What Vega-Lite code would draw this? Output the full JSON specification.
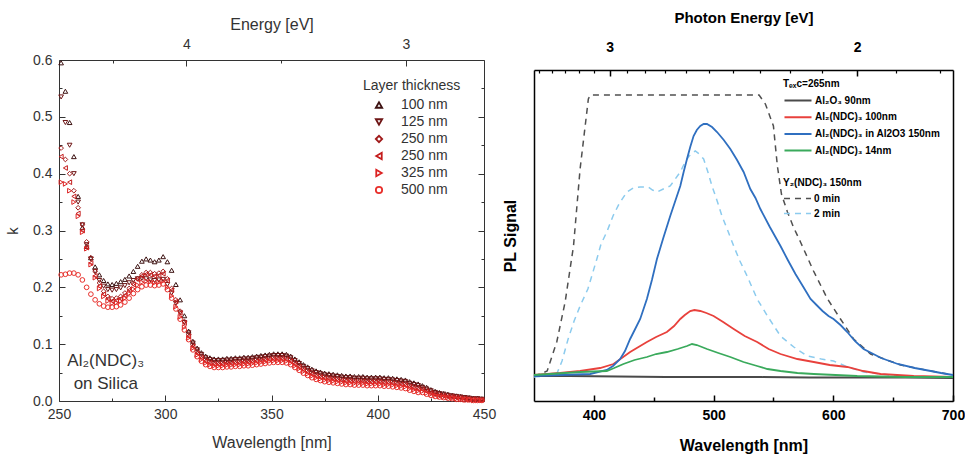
{
 "$schema": "https://vega.github.io/schema/vega-lite/v6.json",
 "padding": {"left": 5, "top": 10, "right": 0, "bottom": 12},
 "background": "white",
 "config": {"view": {"stroke": null}, "font": "Liberation Sans"},
 "bounds": "flush",
 "spacing": 50,
 "hconcat": [
  {
   "width": 425,
   "height": 341,
   "layer": [
    {
     "data": {"values": [
{"w":251,"k":0.595,"t":"100 nm"},{"w":253,"k":0.545,"t":"100 nm"},{"w":255,"k":0.49,"t":"100 nm"},{"w":257,"k":0.43,"t":"100 nm"},{"w":259,"k":0.36,"t":"100 nm"},{"w":261,"k":0.305,"t":"100 nm"},{"w":263,"k":0.272,"t":"100 nm"},{"w":265,"k":0.252,"t":"100 nm"},{"w":267,"k":0.236,"t":"100 nm"},{"w":269,"k":0.222,"t":"100 nm"},{"w":271,"k":0.212,"t":"100 nm"},{"w":273,"k":0.206,"t":"100 nm"},{"w":275,"k":0.205,"t":"100 nm"},{"w":277,"k":0.207,"t":"100 nm"},{"w":279,"k":0.21,"t":"100 nm"},{"w":281,"k":0.214,"t":"100 nm"},{"w":283,"k":0.22,"t":"100 nm"},{"w":285,"k":0.228,"t":"100 nm"},{"w":287,"k":0.237,"t":"100 nm"},{"w":289,"k":0.246,"t":"100 nm"},{"w":291,"k":0.25,"t":"100 nm"},{"w":293,"k":0.248,"t":"100 nm"},{"w":295,"k":0.245,"t":"100 nm"},{"w":297,"k":0.248,"t":"100 nm"},{"w":299,"k":0.254,"t":"100 nm"},{"w":301,"k":0.245,"t":"100 nm"},{"w":303,"k":0.23,"t":"100 nm"},{"w":305,"k":0.205,"t":"100 nm"},{"w":307,"k":0.178,"t":"100 nm"},{"w":309,"k":0.15,"t":"100 nm"},
{"w":311,"k":0.123,"t":"100 nm"},{"w":313,"k":0.105,"t":"100 nm"},{"w":315,"k":0.093,"t":"100 nm"},{"w":317,"k":0.085,"t":"100 nm"},{"w":319,"k":0.079,"t":"100 nm"},{"w":321,"k":0.076,"t":"100 nm"},{"w":323,"k":0.074,"t":"100 nm"},{"w":325,"k":0.074,"t":"100 nm"},{"w":327,"k":0.074,"t":"100 nm"},{"w":329,"k":0.075,"t":"100 nm"},{"w":331,"k":0.075,"t":"100 nm"},{"w":333,"k":0.076,"t":"100 nm"},{"w":335,"k":0.076,"t":"100 nm"},{"w":337,"k":0.077,"t":"100 nm"},{"w":339,"k":0.077,"t":"100 nm"},{"w":341,"k":0.078,"t":"100 nm"},{"w":343,"k":0.079,"t":"100 nm"},{"w":345,"k":0.08,"t":"100 nm"},{"w":347,"k":0.081,"t":"100 nm"},{"w":349,"k":0.082,"t":"100 nm"},{"w":351,"k":0.083,"t":"100 nm"},{"w":353,"k":0.083,"t":"100 nm"},{"w":355,"k":0.083,"t":"100 nm"},{"w":357,"k":0.082,"t":"100 nm"},{"w":359,"k":0.079,"t":"100 nm"},{"w":361,"k":0.074,"t":"100 nm"},{"w":363,"k":0.069,"t":"100 nm"},{"w":365,"k":0.064,"t":"100 nm"},{"w":367,"k":0.06,"t":"100 nm"},{"w":369,"k":0.056,"t":"100 nm"},{"w":371,"k":0.053,"t":"100 nm"},{"w":373,"k":0.051,"t":"100 nm"},{"w":375,"k":0.049,"t":"100 nm"},{"w":377,"k":0.048,"t":"100 nm"},{"w":379,"k":0.047,"t":"100 nm"},{"w":381,"k":0.046,"t":"100 nm"},{"w":383,"k":0.045,"t":"100 nm"},{"w":385,"k":0.044,"t":"100 nm"},{"w":387,"k":0.044,"t":"100 nm"},{"w":389,"k":0.043,"t":"100 nm"},{"w":391,"k":0.043,"t":"100 nm"},{"w":393,"k":0.043,"t":"100 nm"},{"w":395,"k":0.042,"t":"100 nm"},{"w":397,"k":0.042,"t":"100 nm"},{"w":399,"k":0.042,"t":"100 nm"},{"w":401,"k":0.042,"t":"100 nm"},{"w":403,"k":0.041,"t":"100 nm"},{"w":405,"k":0.041,"t":"100 nm"},{"w":407,"k":0.04,"t":"100 nm"},{"w":409,"k":0.039,"t":"100 nm"},{"w":411,"k":0.038,"t":"100 nm"},{"w":413,"k":0.037,"t":"100 nm"},{"w":415,"k":0.034,"t":"100 nm"},{"w":417,"k":0.032,"t":"100 nm"},{"w":419,"k":0.03,"t":"100 nm"},{"w":421,"k":0.027,"t":"100 nm"},{"w":423,"k":0.024,"t":"100 nm"},{"w":425,"k":0.02,"t":"100 nm"},{"w":427,"k":0.017,"t":"100 nm"},{"w":429,"k":0.015,"t":"100 nm"},{"w":431,"k":0.013,"t":"100 nm"},{"w":433,"k":0.012,"t":"100 nm"},{"w":435,"k":0.01,"t":"100 nm"},{"w":437,"k":0.009,"t":"100 nm"},{"w":439,"k":0.008,"t":"100 nm"},{"w":441,"k":0.007,"t":"100 nm"},{"w":443,"k":0.006,"t":"100 nm"},{"w":445,"k":0.005,"t":"100 nm"},{"w":447,"k":0.005,"t":"100 nm"},{"w":449,"k":0.004,"t":"100 nm"},
{"w":251,"k":0.535,"t":"125 nm"},{"w":253,"k":0.49,"t":"125 nm"},{"w":255,"k":0.45,"t":"125 nm"},{"w":257,"k":0.4,"t":"125 nm"},{"w":259,"k":0.35,"t":"125 nm"},{"w":261,"k":0.31,"t":"125 nm"},{"w":263,"k":0.275,"t":"125 nm"},{"w":265,"k":0.25,"t":"125 nm"},{"w":267,"k":0.228,"t":"125 nm"},{"w":269,"k":0.212,"t":"125 nm"},{"w":271,"k":0.202,"t":"125 nm"},{"w":273,"k":0.196,"t":"125 nm"},{"w":275,"k":0.195,"t":"125 nm"},{"w":277,"k":0.196,"t":"125 nm"},{"w":279,"k":0.199,"t":"125 nm"},{"w":281,"k":0.203,"t":"125 nm"},{"w":283,"k":0.208,"t":"125 nm"},{"w":285,"k":0.212,"t":"125 nm"},{"w":287,"k":0.215,"t":"125 nm"},{"w":289,"k":0.216,"t":"125 nm"},{"w":291,"k":0.215,"t":"125 nm"},{"w":293,"k":0.213,"t":"125 nm"},{"w":295,"k":0.212,"t":"125 nm"},{"w":297,"k":0.213,"t":"125 nm"},{"w":299,"k":0.214,"t":"125 nm"},{"w":301,"k":0.205,"t":"125 nm"},{"w":303,"k":0.19,"t":"125 nm"},{"w":305,"k":0.172,"t":"125 nm"},{"w":307,"k":0.155,"t":"125 nm"},{"w":309,"k":0.138,"t":"125 nm"},
{"w":311,"k":0.12,"t":"125 nm"},{"w":313,"k":0.102,"t":"125 nm"},{"w":315,"k":0.09,"t":"125 nm"},{"w":317,"k":0.082,"t":"125 nm"},{"w":319,"k":0.076,"t":"125 nm"},{"w":321,"k":0.073,"t":"125 nm"},{"w":323,"k":0.071,"t":"125 nm"},{"w":325,"k":0.071,"t":"125 nm"},{"w":327,"k":0.071,"t":"125 nm"},{"w":329,"k":0.072,"t":"125 nm"},{"w":331,"k":0.072,"t":"125 nm"},{"w":333,"k":0.073,"t":"125 nm"},{"w":335,"k":0.073,"t":"125 nm"},{"w":337,"k":0.074,"t":"125 nm"},{"w":339,"k":0.074,"t":"125 nm"},{"w":341,"k":0.075,"t":"125 nm"},{"w":343,"k":0.076,"t":"125 nm"},{"w":345,"k":0.077,"t":"125 nm"},{"w":347,"k":0.078,"t":"125 nm"},{"w":349,"k":0.079,"t":"125 nm"},{"w":351,"k":0.08,"t":"125 nm"},{"w":353,"k":0.08,"t":"125 nm"},{"w":355,"k":0.08,"t":"125 nm"},{"w":357,"k":0.079,"t":"125 nm"},{"w":359,"k":0.076,"t":"125 nm"},{"w":361,"k":0.071,"t":"125 nm"},{"w":363,"k":0.066,"t":"125 nm"},{"w":365,"k":0.061,"t":"125 nm"},{"w":367,"k":0.057,"t":"125 nm"},{"w":369,"k":0.053,"t":"125 nm"},{"w":371,"k":0.05,"t":"125 nm"},{"w":373,"k":0.048,"t":"125 nm"},{"w":375,"k":0.046,"t":"125 nm"},{"w":377,"k":0.045,"t":"125 nm"},{"w":379,"k":0.044,"t":"125 nm"},{"w":381,"k":0.043,"t":"125 nm"},{"w":383,"k":0.042,"t":"125 nm"},{"w":385,"k":0.041,"t":"125 nm"},{"w":387,"k":0.041,"t":"125 nm"},{"w":389,"k":0.04,"t":"125 nm"},{"w":391,"k":0.04,"t":"125 nm"},{"w":393,"k":0.04,"t":"125 nm"},{"w":395,"k":0.039,"t":"125 nm"},{"w":397,"k":0.039,"t":"125 nm"},{"w":399,"k":0.039,"t":"125 nm"},{"w":401,"k":0.039,"t":"125 nm"},{"w":403,"k":0.038,"t":"125 nm"},{"w":405,"k":0.038,"t":"125 nm"},{"w":407,"k":0.037,"t":"125 nm"},{"w":409,"k":0.036,"t":"125 nm"},{"w":411,"k":0.035,"t":"125 nm"},{"w":413,"k":0.034,"t":"125 nm"},{"w":415,"k":0.031,"t":"125 nm"},{"w":417,"k":0.029,"t":"125 nm"},{"w":419,"k":0.027,"t":"125 nm"},{"w":421,"k":0.024,"t":"125 nm"},{"w":423,"k":0.021,"t":"125 nm"},{"w":425,"k":0.018,"t":"125 nm"},{"w":427,"k":0.015,"t":"125 nm"},{"w":429,"k":0.013,"t":"125 nm"},{"w":431,"k":0.012,"t":"125 nm"},{"w":433,"k":0.01,"t":"125 nm"},{"w":435,"k":0.009,"t":"125 nm"},{"w":437,"k":0.008,"t":"125 nm"},{"w":439,"k":0.007,"t":"125 nm"},{"w":441,"k":0.006,"t":"125 nm"},{"w":443,"k":0.005,"t":"125 nm"},{"w":445,"k":0.004,"t":"125 nm"},{"w":447,"k":0.004,"t":"125 nm"},{"w":449,"k":0.003,"t":"125 nm"},
{"w":251,"k":0.445,"t":"250 nm"},{"w":253,"k":0.425,"t":"250 nm"},{"w":255,"k":0.4,"t":"250 nm"},{"w":257,"k":0.37,"t":"250 nm"},{"w":259,"k":0.34,"t":"250 nm"},{"w":261,"k":0.31,"t":"250 nm"},{"w":263,"k":0.28,"t":"250 nm"},{"w":265,"k":0.252,"t":"250 nm"},{"w":267,"k":0.228,"t":"250 nm"},{"w":269,"k":0.208,"t":"250 nm"},{"w":271,"k":0.193,"t":"250 nm"},{"w":273,"k":0.184,"t":"250 nm"},{"w":275,"k":0.18,"t":"250 nm"},{"w":277,"k":0.181,"t":"250 nm"},{"w":279,"k":0.184,"t":"250 nm"},{"w":281,"k":0.19,"t":"250 nm"},{"w":283,"k":0.198,"t":"250 nm"},{"w":285,"k":0.207,"t":"250 nm"},{"w":287,"k":0.215,"t":"250 nm"},{"w":289,"k":0.222,"t":"250 nm"},{"w":291,"k":0.226,"t":"250 nm"},{"w":293,"k":0.226,"t":"250 nm"},{"w":295,"k":0.224,"t":"250 nm"},{"w":297,"k":0.225,"t":"250 nm"},{"w":299,"k":0.228,"t":"250 nm"},{"w":301,"k":0.215,"t":"250 nm"},{"w":303,"k":0.198,"t":"250 nm"},{"w":305,"k":0.178,"t":"250 nm"},{"w":307,"k":0.158,"t":"250 nm"},{"w":309,"k":0.14,"t":"250 nm"},
{"w":311,"k":0.117,"t":"250 nm"},{"w":313,"k":0.099,"t":"250 nm"},{"w":315,"k":0.087,"t":"250 nm"},{"w":317,"k":0.079,"t":"250 nm"},{"w":319,"k":0.073,"t":"250 nm"},{"w":321,"k":0.07,"t":"250 nm"},{"w":323,"k":0.068,"t":"250 nm"},{"w":325,"k":0.068,"t":"250 nm"},{"w":327,"k":0.068,"t":"250 nm"},{"w":329,"k":0.069,"t":"250 nm"},{"w":331,"k":0.069,"t":"250 nm"},{"w":333,"k":0.07,"t":"250 nm"},{"w":335,"k":0.07,"t":"250 nm"},{"w":337,"k":0.071,"t":"250 nm"},{"w":339,"k":0.071,"t":"250 nm"},{"w":341,"k":0.072,"t":"250 nm"},{"w":343,"k":0.073,"t":"250 nm"},{"w":345,"k":0.074,"t":"250 nm"},{"w":347,"k":0.075,"t":"250 nm"},{"w":349,"k":0.076,"t":"250 nm"},{"w":351,"k":0.077,"t":"250 nm"},{"w":353,"k":0.077,"t":"250 nm"},{"w":355,"k":0.077,"t":"250 nm"},{"w":357,"k":0.076,"t":"250 nm"},{"w":359,"k":0.073,"t":"250 nm"},{"w":361,"k":0.068,"t":"250 nm"},{"w":363,"k":0.063,"t":"250 nm"},{"w":365,"k":0.058,"t":"250 nm"},{"w":367,"k":0.054,"t":"250 nm"},{"w":369,"k":0.05,"t":"250 nm"},{"w":371,"k":0.047,"t":"250 nm"},{"w":373,"k":0.045,"t":"250 nm"},{"w":375,"k":0.043,"t":"250 nm"},{"w":377,"k":0.042,"t":"250 nm"},{"w":379,"k":0.041,"t":"250 nm"},{"w":381,"k":0.04,"t":"250 nm"},{"w":383,"k":0.039,"t":"250 nm"},{"w":385,"k":0.038,"t":"250 nm"},{"w":387,"k":0.038,"t":"250 nm"},{"w":389,"k":0.037,"t":"250 nm"},{"w":391,"k":0.037,"t":"250 nm"},{"w":393,"k":0.037,"t":"250 nm"},{"w":395,"k":0.036,"t":"250 nm"},{"w":397,"k":0.036,"t":"250 nm"},{"w":399,"k":0.036,"t":"250 nm"},{"w":401,"k":0.036,"t":"250 nm"},{"w":403,"k":0.035,"t":"250 nm"},{"w":405,"k":0.035,"t":"250 nm"},{"w":407,"k":0.034,"t":"250 nm"},{"w":409,"k":0.033,"t":"250 nm"},{"w":411,"k":0.032,"t":"250 nm"},{"w":413,"k":0.031,"t":"250 nm"},{"w":415,"k":0.028,"t":"250 nm"},{"w":417,"k":0.026,"t":"250 nm"},{"w":419,"k":0.024,"t":"250 nm"},{"w":421,"k":0.022,"t":"250 nm"},{"w":423,"k":0.019,"t":"250 nm"},{"w":425,"k":0.016,"t":"250 nm"},{"w":427,"k":0.013,"t":"250 nm"},{"w":429,"k":0.011,"t":"250 nm"},{"w":431,"k":0.01,"t":"250 nm"},{"w":433,"k":0.009,"t":"250 nm"},{"w":435,"k":0.008,"t":"250 nm"},{"w":437,"k":0.007,"t":"250 nm"},{"w":439,"k":0.006,"t":"250 nm"},{"w":441,"k":0.005,"t":"250 nm"},{"w":443,"k":0.004,"t":"250 nm"},{"w":445,"k":0.003,"t":"250 nm"},{"w":447,"k":0.003,"t":"250 nm"},{"w":449,"k":0.002,"t":"250 nm"},
{"w":251,"k":0.43,"t":"250 nm "},{"w":253,"k":0.41,"t":"250 nm "},{"w":255,"k":0.385,"t":"250 nm "},{"w":257,"k":0.36,"t":"250 nm "},{"w":259,"k":0.33,"t":"250 nm "},{"w":261,"k":0.3,"t":"250 nm "},{"w":263,"k":0.27,"t":"250 nm "},{"w":265,"k":0.243,"t":"250 nm "},{"w":267,"k":0.22,"t":"250 nm "},{"w":269,"k":0.202,"t":"250 nm "},{"w":271,"k":0.188,"t":"250 nm "},{"w":273,"k":0.18,"t":"250 nm "},{"w":275,"k":0.176,"t":"250 nm "},{"w":277,"k":0.177,"t":"250 nm "},{"w":279,"k":0.18,"t":"250 nm "},{"w":281,"k":0.186,"t":"250 nm "},{"w":283,"k":0.195,"t":"250 nm "},{"w":285,"k":0.205,"t":"250 nm "},{"w":287,"k":0.214,"t":"250 nm "},{"w":289,"k":0.22,"t":"250 nm "},{"w":291,"k":0.223,"t":"250 nm "},{"w":293,"k":0.222,"t":"250 nm "},{"w":295,"k":0.22,"t":"250 nm "},{"w":297,"k":0.221,"t":"250 nm "},{"w":299,"k":0.224,"t":"250 nm "},{"w":301,"k":0.212,"t":"250 nm "},{"w":303,"k":0.195,"t":"250 nm "},{"w":305,"k":0.175,"t":"250 nm "},{"w":307,"k":0.155,"t":"250 nm "},{"w":309,"k":0.137,"t":"250 nm "},
{"w":311,"k":0.114,"t":"250 nm "},{"w":313,"k":0.096,"t":"250 nm "},{"w":315,"k":0.084,"t":"250 nm "},{"w":317,"k":0.076,"t":"250 nm "},{"w":319,"k":0.07,"t":"250 nm "},{"w":321,"k":0.067,"t":"250 nm "},{"w":323,"k":0.065,"t":"250 nm "},{"w":325,"k":0.065,"t":"250 nm "},{"w":327,"k":0.065,"t":"250 nm "},{"w":329,"k":0.066,"t":"250 nm "},{"w":331,"k":0.066,"t":"250 nm "},{"w":333,"k":0.067,"t":"250 nm "},{"w":335,"k":0.067,"t":"250 nm "},{"w":337,"k":0.068,"t":"250 nm "},{"w":339,"k":0.068,"t":"250 nm "},{"w":341,"k":0.069,"t":"250 nm "},{"w":343,"k":0.07,"t":"250 nm "},{"w":345,"k":0.071,"t":"250 nm "},{"w":347,"k":0.072,"t":"250 nm "},{"w":349,"k":0.073,"t":"250 nm "},{"w":351,"k":0.074,"t":"250 nm "},{"w":353,"k":0.074,"t":"250 nm "},{"w":355,"k":0.074,"t":"250 nm "},{"w":357,"k":0.073,"t":"250 nm "},{"w":359,"k":0.07,"t":"250 nm "},{"w":361,"k":0.065,"t":"250 nm "},{"w":363,"k":0.06,"t":"250 nm "},{"w":365,"k":0.055,"t":"250 nm "},{"w":367,"k":0.051,"t":"250 nm "},{"w":369,"k":0.047,"t":"250 nm "},{"w":371,"k":0.044,"t":"250 nm "},{"w":373,"k":0.042,"t":"250 nm "},{"w":375,"k":0.04,"t":"250 nm "},{"w":377,"k":0.039,"t":"250 nm "},{"w":379,"k":0.038,"t":"250 nm "},{"w":381,"k":0.037,"t":"250 nm "},{"w":383,"k":0.036,"t":"250 nm "},{"w":385,"k":0.035,"t":"250 nm "},{"w":387,"k":0.035,"t":"250 nm "},{"w":389,"k":0.034,"t":"250 nm "},{"w":391,"k":0.034,"t":"250 nm "},{"w":393,"k":0.034,"t":"250 nm "},{"w":395,"k":0.033,"t":"250 nm "},{"w":397,"k":0.033,"t":"250 nm "},{"w":399,"k":0.033,"t":"250 nm "},{"w":401,"k":0.033,"t":"250 nm "},{"w":403,"k":0.032,"t":"250 nm "},{"w":405,"k":0.032,"t":"250 nm "},{"w":407,"k":0.031,"t":"250 nm "},{"w":409,"k":0.03,"t":"250 nm "},{"w":411,"k":0.029,"t":"250 nm "},{"w":413,"k":0.028,"t":"250 nm "},{"w":415,"k":0.025,"t":"250 nm "},{"w":417,"k":0.023,"t":"250 nm "},{"w":419,"k":0.021,"t":"250 nm "},{"w":421,"k":0.02,"t":"250 nm "},{"w":423,"k":0.017,"t":"250 nm "},{"w":425,"k":0.014,"t":"250 nm "},{"w":427,"k":0.012,"t":"250 nm "},{"w":429,"k":0.01,"t":"250 nm "},{"w":431,"k":0.009,"t":"250 nm "},{"w":433,"k":0.008,"t":"250 nm "},{"w":435,"k":0.007,"t":"250 nm "},{"w":437,"k":0.006,"t":"250 nm "},{"w":439,"k":0.005,"t":"250 nm "},{"w":441,"k":0.004,"t":"250 nm "},{"w":443,"k":0.003,"t":"250 nm "},{"w":445,"k":0.003,"t":"250 nm "},{"w":447,"k":0.002,"t":"250 nm "},{"w":449,"k":0.002,"t":"250 nm "},
{"w":251,"k":0.385,"t":"325 nm"},{"w":253,"k":0.382,"t":"325 nm"},{"w":255,"k":0.37,"t":"325 nm"},{"w":257,"k":0.35,"t":"325 nm"},{"w":259,"k":0.325,"t":"325 nm"},{"w":261,"k":0.297,"t":"325 nm"},{"w":263,"k":0.268,"t":"325 nm"},{"w":265,"k":0.24,"t":"325 nm"},{"w":267,"k":0.217,"t":"325 nm"},{"w":269,"k":0.198,"t":"325 nm"},{"w":271,"k":0.184,"t":"325 nm"},{"w":273,"k":0.176,"t":"325 nm"},{"w":275,"k":0.172,"t":"325 nm"},{"w":277,"k":0.173,"t":"325 nm"},{"w":279,"k":0.176,"t":"325 nm"},{"w":281,"k":0.181,"t":"325 nm"},{"w":283,"k":0.189,"t":"325 nm"},{"w":285,"k":0.197,"t":"325 nm"},{"w":287,"k":0.204,"t":"325 nm"},{"w":289,"k":0.209,"t":"325 nm"},{"w":291,"k":0.211,"t":"325 nm"},{"w":293,"k":0.21,"t":"325 nm"},{"w":295,"k":0.208,"t":"325 nm"},{"w":297,"k":0.209,"t":"325 nm"},{"w":299,"k":0.211,"t":"325 nm"},{"w":301,"k":0.2,"t":"325 nm"},{"w":303,"k":0.185,"t":"325 nm"},{"w":305,"k":0.166,"t":"325 nm"},{"w":307,"k":0.148,"t":"325 nm"},{"w":309,"k":0.13,"t":"325 nm"},
{"w":311,"k":0.111,"t":"325 nm"},{"w":313,"k":0.093,"t":"325 nm"},{"w":315,"k":0.081,"t":"325 nm"},{"w":317,"k":0.073,"t":"325 nm"},{"w":319,"k":0.067,"t":"325 nm"},{"w":321,"k":0.064,"t":"325 nm"},{"w":323,"k":0.062,"t":"325 nm"},{"w":325,"k":0.062,"t":"325 nm"},{"w":327,"k":0.062,"t":"325 nm"},{"w":329,"k":0.063,"t":"325 nm"},{"w":331,"k":0.063,"t":"325 nm"},{"w":333,"k":0.064,"t":"325 nm"},{"w":335,"k":0.064,"t":"325 nm"},{"w":337,"k":0.065,"t":"325 nm"},{"w":339,"k":0.065,"t":"325 nm"},{"w":341,"k":0.066,"t":"325 nm"},{"w":343,"k":0.067,"t":"325 nm"},{"w":345,"k":0.068,"t":"325 nm"},{"w":347,"k":0.069,"t":"325 nm"},{"w":349,"k":0.07,"t":"325 nm"},{"w":351,"k":0.071,"t":"325 nm"},{"w":353,"k":0.071,"t":"325 nm"},{"w":355,"k":0.071,"t":"325 nm"},{"w":357,"k":0.07,"t":"325 nm"},{"w":359,"k":0.067,"t":"325 nm"},{"w":361,"k":0.062,"t":"325 nm"},{"w":363,"k":0.057,"t":"325 nm"},{"w":365,"k":0.052,"t":"325 nm"},{"w":367,"k":0.048,"t":"325 nm"},{"w":369,"k":0.044,"t":"325 nm"},{"w":371,"k":0.041,"t":"325 nm"},{"w":373,"k":0.039,"t":"325 nm"},{"w":375,"k":0.037,"t":"325 nm"},{"w":377,"k":0.036,"t":"325 nm"},{"w":379,"k":0.035,"t":"325 nm"},{"w":381,"k":0.034,"t":"325 nm"},{"w":383,"k":0.033,"t":"325 nm"},{"w":385,"k":0.032,"t":"325 nm"},{"w":387,"k":0.032,"t":"325 nm"},{"w":389,"k":0.031,"t":"325 nm"},{"w":391,"k":0.031,"t":"325 nm"},{"w":393,"k":0.031,"t":"325 nm"},{"w":395,"k":0.03,"t":"325 nm"},{"w":397,"k":0.03,"t":"325 nm"},{"w":399,"k":0.03,"t":"325 nm"},{"w":401,"k":0.03,"t":"325 nm"},{"w":403,"k":0.029,"t":"325 nm"},{"w":405,"k":0.029,"t":"325 nm"},{"w":407,"k":0.028,"t":"325 nm"},{"w":409,"k":0.027,"t":"325 nm"},{"w":411,"k":0.026,"t":"325 nm"},{"w":413,"k":0.025,"t":"325 nm"},{"w":415,"k":0.022,"t":"325 nm"},{"w":417,"k":0.02,"t":"325 nm"},{"w":419,"k":0.018,"t":"325 nm"},{"w":421,"k":0.017,"t":"325 nm"},{"w":423,"k":0.014,"t":"325 nm"},{"w":425,"k":0.012,"t":"325 nm"},{"w":427,"k":0.01,"t":"325 nm"},{"w":429,"k":0.008,"t":"325 nm"},{"w":431,"k":0.007,"t":"325 nm"},{"w":433,"k":0.006,"t":"325 nm"},{"w":435,"k":0.005,"t":"325 nm"},{"w":437,"k":0.004,"t":"325 nm"},{"w":439,"k":0.003,"t":"325 nm"},{"w":441,"k":0.002,"t":"325 nm"},{"w":443,"k":0.002,"t":"325 nm"},{"w":445,"k":0.001,"t":"325 nm"},{"w":447,"k":0.001,"t":"325 nm"},{"w":449,"k":0.001,"t":"325 nm"},
{"w":251,"k":0.222,"t":"500 nm"},{"w":253,"k":0.223,"t":"500 nm"},{"w":255,"k":0.225,"t":"500 nm"},{"w":257,"k":0.225,"t":"500 nm"},{"w":259,"k":0.222,"t":"500 nm"},{"w":261,"k":0.213,"t":"500 nm"},{"w":263,"k":0.2,"t":"500 nm"},{"w":265,"k":0.188,"t":"500 nm"},{"w":267,"k":0.178,"t":"500 nm"},{"w":269,"k":0.171,"t":"500 nm"},{"w":271,"k":0.167,"t":"500 nm"},{"w":273,"k":0.165,"t":"500 nm"},{"w":275,"k":0.165,"t":"500 nm"},{"w":277,"k":0.166,"t":"500 nm"},{"w":279,"k":0.169,"t":"500 nm"},{"w":281,"k":0.174,"t":"500 nm"},{"w":283,"k":0.181,"t":"500 nm"},{"w":285,"k":0.189,"t":"500 nm"},{"w":287,"k":0.196,"t":"500 nm"},{"w":289,"k":0.201,"t":"500 nm"},{"w":291,"k":0.204,"t":"500 nm"},{"w":293,"k":0.204,"t":"500 nm"},{"w":295,"k":0.203,"t":"500 nm"},{"w":297,"k":0.204,"t":"500 nm"},{"w":299,"k":0.206,"t":"500 nm"},{"w":301,"k":0.196,"t":"500 nm"},{"w":303,"k":0.181,"t":"500 nm"},{"w":305,"k":0.162,"t":"500 nm"},{"w":307,"k":0.144,"t":"500 nm"},{"w":309,"k":0.125,"t":"500 nm"},
{"w":311,"k":0.108,"t":"500 nm"},{"w":313,"k":0.09,"t":"500 nm"},{"w":315,"k":0.078,"t":"500 nm"},{"w":317,"k":0.07,"t":"500 nm"},{"w":319,"k":0.064,"t":"500 nm"},{"w":321,"k":0.061,"t":"500 nm"},{"w":323,"k":0.059,"t":"500 nm"},{"w":325,"k":0.059,"t":"500 nm"},{"w":327,"k":0.059,"t":"500 nm"},{"w":329,"k":0.06,"t":"500 nm"},{"w":331,"k":0.06,"t":"500 nm"},{"w":333,"k":0.061,"t":"500 nm"},{"w":335,"k":0.061,"t":"500 nm"},{"w":337,"k":0.062,"t":"500 nm"},{"w":339,"k":0.062,"t":"500 nm"},{"w":341,"k":0.063,"t":"500 nm"},{"w":343,"k":0.064,"t":"500 nm"},{"w":345,"k":0.065,"t":"500 nm"},{"w":347,"k":0.066,"t":"500 nm"},{"w":349,"k":0.067,"t":"500 nm"},{"w":351,"k":0.068,"t":"500 nm"},{"w":353,"k":0.068,"t":"500 nm"},{"w":355,"k":0.068,"t":"500 nm"},{"w":357,"k":0.067,"t":"500 nm"},{"w":359,"k":0.064,"t":"500 nm"},{"w":361,"k":0.059,"t":"500 nm"},{"w":363,"k":0.054,"t":"500 nm"},{"w":365,"k":0.049,"t":"500 nm"},{"w":367,"k":0.045,"t":"500 nm"},{"w":369,"k":0.041,"t":"500 nm"},{"w":371,"k":0.038,"t":"500 nm"},{"w":373,"k":0.036,"t":"500 nm"},{"w":375,"k":0.034,"t":"500 nm"},{"w":377,"k":0.033,"t":"500 nm"},{"w":379,"k":0.032,"t":"500 nm"},{"w":381,"k":0.031,"t":"500 nm"},{"w":383,"k":0.03,"t":"500 nm"},{"w":385,"k":0.029,"t":"500 nm"},{"w":387,"k":0.029,"t":"500 nm"},{"w":389,"k":0.028,"t":"500 nm"},{"w":391,"k":0.028,"t":"500 nm"},{"w":393,"k":0.028,"t":"500 nm"},{"w":395,"k":0.027,"t":"500 nm"},{"w":397,"k":0.027,"t":"500 nm"},{"w":399,"k":0.027,"t":"500 nm"},{"w":401,"k":0.027,"t":"500 nm"},{"w":403,"k":0.026,"t":"500 nm"},{"w":405,"k":0.026,"t":"500 nm"},{"w":407,"k":0.025,"t":"500 nm"},{"w":409,"k":0.024,"t":"500 nm"},{"w":411,"k":0.023,"t":"500 nm"},{"w":413,"k":0.022,"t":"500 nm"},{"w":415,"k":0.019,"t":"500 nm"},{"w":417,"k":0.017,"t":"500 nm"},{"w":419,"k":0.015,"t":"500 nm"},{"w":421,"k":0.015,"t":"500 nm"},{"w":423,"k":0.012,"t":"500 nm"},{"w":425,"k":0.01,"t":"500 nm"},{"w":427,"k":0.008,"t":"500 nm"},{"w":429,"k":0.007,"t":"500 nm"},{"w":431,"k":0.006,"t":"500 nm"},{"w":433,"k":0.005,"t":"500 nm"},{"w":435,"k":0.004,"t":"500 nm"},{"w":437,"k":0.003,"t":"500 nm"},{"w":439,"k":0.003,"t":"500 nm"},{"w":441,"k":0.002,"t":"500 nm"},{"w":443,"k":0.002,"t":"500 nm"},{"w":445,"k":0.001,"t":"500 nm"},{"w":447,"k":0.001,"t":"500 nm"},{"w":449,"k":0.001,"t":"500 nm"}
     ]},
     "mark": {"type": "point", "filled": false, "size": 22, "strokeWidth": 1, "opacity": 1},
     "encoding": {
      "x": {"field": "w", "type": "quantitative", "scale": {"domain": [250, 450], "nice": false, "zero": false},
       "axis": {"orient": "bottom", "values": [250,300,350,400,450], "tickSize": -6, "tickOpacity": 0,
        "labelPadding": 12, "labelFontSize": 14, "labelColor": "#333", "labelFlush": false, "labelOverlap": false, "labelBound": false,
        "title": "Wavelength [nm]", "titleFontSize": 16, "titleFontWeight": "normal", "titleColor": "#333", "titlePadding": 13,
        "domainColor": "#333", "grid": false}},
      "y": {"field": "k", "type": "quantitative", "scale": {"domain": [0, 0.6], "nice": false, "zero": false},
       "axis": {"orient": "left", "values": [0,0.1,0.2,0.3,0.4,0.5,0.6], "format": ".1f", "tickSize": -6, "tickOpacity": 0,
        "labelPadding": 13, "labelFontSize": 14, "labelColor": "#333", "labelFlush": false, "labelOverlap": false, "labelBound": false,
        "title": "k", "titleFontSize": 15, "titleFontWeight": "normal", "titleColor": "#333", "titlePadding": 12,
        "domainColor": "#333", "grid": false}},
      "color": {"field": "t", "type": "nominal", "sort": null,
       "scale": {"domain": ["100 nm","125 nm","250 nm","250 nm ","325 nm","500 nm"], "range": ["#3d1212","#6e1515","#a01a1a","#c41c1c","#dc2323","#e8302c"]},
       "legend": {"title": "Layer thickness", "orient": "none", "legendX": 304, "legendY": 19, "padding": 0,
        "labelFontSize": 14, "titleFontSize": 14, "titleFontWeight": "normal", "labelColor": "#333", "titleColor": "#333",
        "symbolSize": 40, "symbolStrokeWidth": 1.8, "clipHeight": 14, "rowPadding": 3, "labelOffset": 15, "symbolOffset": 9, "titlePadding": 5}},
      "shape": {"field": "t", "type": "nominal", "sort": null,
       "scale": {"domain": ["100 nm","125 nm","250 nm","250 nm ","325 nm","500 nm"], "range": ["triangle-up","triangle-down","diamond","triangle-left","triangle-right","circle"]}}
     }
    },
    {
     "data": {"values": [{"w": 272, "k": 0.071, "label": "Al₂(NDC)₃"}, {"w": 272, "k": 0.03, "label": "on Silica"}]},
     "mark": {"type": "text", "fontSize": 17, "color": "#333", "align": "center", "baseline": "middle"},
     "encoding": {
      "x": {"field": "w", "type": "quantitative", "scale": {"domain": [250, 450], "nice": false, "zero": false},
       "axis": {"orient": "top", "values": [309.96, 413.28],
        "labelExpr": "datum.value < 350 ? '4' : '3'", "tickSize": -6, "tickOpacity": 0,
        "labelPadding": 15, "labelFontSize": 14, "labelColor": "#333", "labelFlush": false, "labelOverlap": false, "labelBound": false,
        "title": "Energy [eV]", "titleFontSize": 16, "titleFontWeight": "normal", "titleColor": "#333", "titlePadding": 5,
        "domainColor": "#333", "grid": false}},
      "y": {"field": "k", "type": "quantitative", "scale": {"domain": [0, 0.6], "nice": false, "zero": false},
       "axis": {"orient": "right", "labels": false, "ticks": false, "title": null, "domainColor": "#333", "grid": false}},
      "text": {"field": "label", "type": "nominal"}
     }
    },
    {
     "data": {"values": [{"w": 300, "k": 0.3}]},
     "mark": {"type": "point", "opacity": 0},
     "encoding": {
      "x": {"field": "w", "type": "quantitative", "scale": {"domain": [250, 450], "nice": false, "zero": false},
       "axis": {"orient": "bottom", "offset": -6, "values": [250,300,350,400,450], "labels": false, "tickSize": 6, "domain": false, "title": null, "tickColor": "#333", "grid": false}},
      "y": {"field": "k", "type": "quantitative", "scale": {"domain": [0, 0.6], "nice": false, "zero": false},
       "axis": {"orient": "left", "offset": -6, "values": [0,0.1,0.2,0.3,0.4,0.5,0.6], "labels": false, "tickSize": 6, "domain": false, "title": null, "tickColor": "#333", "grid": false}}
     }
    },
    {
     "data": {"values": [{"w": 300, "k": 0.3}]},
     "mark": {"type": "point", "opacity": 0},
     "encoding": {
      "x": {"field": "w", "type": "quantitative", "scale": {"domain": [250, 450], "nice": false, "zero": false},
       "axis": {"orient": "top", "offset": -6, "values": [309.96, 413.28], "labels": false, "tickSize": 6, "domain": false, "title": null, "tickColor": "#333", "grid": false}},
      "y": {"field": "k", "type": "quantitative", "scale": {"domain": [0, 0.6], "nice": false, "zero": false},
       "axis": {"orient": "right", "offset": -6, "values": [0,0.1,0.2,0.3,0.4,0.5,0.6], "labels": false, "tickSize": 6, "domain": false, "title": null, "tickColor": "#333", "grid": false}}
     }
    },
    {
     "data": {"values": [{"w": 300, "k": 0.3}]},
     "mark": {"type": "point", "opacity": 0},
     "encoding": {
      "x": {"field": "w", "type": "quantitative", "scale": {"domain": [250, 450], "nice": false, "zero": false},
       "axis": {"orient": "bottom", "offset": -3, "values": [275,325,375,425], "labels": false, "tickSize": 3, "domain": false, "title": null, "tickColor": "#333", "grid": false}},
      "y": {"field": "k", "type": "quantitative", "scale": {"domain": [0, 0.6], "nice": false, "zero": false},
       "axis": {"orient": "left", "offset": -3, "values": [0.05,0.15,0.25,0.35,0.45,0.55], "labels": false, "tickSize": 3, "domain": false, "title": null, "tickColor": "#333", "grid": false}}
     }
    },
    {
     "data": {"values": [{"w": 300, "k": 0.3}]},
     "mark": {"type": "point", "opacity": 0},
     "encoding": {
      "x": {"field": "w", "type": "quantitative", "scale": {"domain": [250, 450], "nice": false, "zero": false},
       "axis": {"orient": "top", "offset": -3, "values": [275.52, 354.24], "labels": false, "tickSize": 3, "domain": false, "title": null, "tickColor": "#333", "grid": false}},
      "y": {"field": "k", "type": "quantitative", "scale": {"domain": [0, 0.6], "nice": false, "zero": false},
       "axis": {"orient": "right", "offset": -3, "values": [0.05,0.15,0.25,0.35,0.45,0.55], "labels": false, "tickSize": 3, "domain": false, "title": null, "tickColor": "#333", "grid": false}}
     }
    }
   ],
   "resolve": {"axis": {"x": "independent", "y": "independent"}}
  },
  {
   "vconcat": [
    {
     "width": 419, "height": 10,
     "data": {"values": [{"a": 1}]},
     "mark": {"type": "point", "opacity": 0},
     "encoding": {}
    },
    {
     "width": 419,
     "height": 331,
     "layer": [
      {
       "data": {"values": [
{"w":350,"s":25,"c":"0 min"},{"w":355,"s":27,"c":"0 min"},{"w":361,"s":30,"c":"0 min"},{"w":369,"s":59,"c":"0 min"},{"w":376,"s":99,"c":"0 min"},{"w":383,"s":155,"c":"0 min"},{"w":388.5,"s":232,"c":"0 min"},{"w":395.4,"s":302,"c":"0 min"},{"w":397,"s":306,"c":"0 min"},{"w":538,"s":306,"c":"0 min"},{"w":543.3,"s":297,"c":"0 min"},{"w":550,"s":275,"c":"0 min"},{"w":553.3,"s":235,"c":"0 min"},{"w":556.7,"s":207,"c":"0 min"},{"w":561.7,"s":189,"c":"0 min"},{"w":566.7,"s":174,"c":"0 min"},{"w":572.6,"s":159,"c":"0 min"},{"w":583.5,"s":130,"c":"0 min"},{"w":595.2,"s":102,"c":"0 min"},{"w":606,"s":82,"c":"0 min"},{"w":617,"s":62,"c":"0 min"},{"w":631.2,"s":47,"c":"0 min"},{"w":656.3,"s":36,"c":"0 min"},{"w":681.4,"s":30,"c":"0 min"},{"w":700,"s":26,"c":"0 min"},
{"w":350,"s":24,"c":"2 min"},{"w":359,"s":25,"c":"2 min"},{"w":369,"s":27,"c":"2 min"},{"w":373.4,"s":40,"c":"2 min"},{"w":378.5,"s":62,"c":"2 min"},{"w":383.5,"s":80,"c":"2 min"},{"w":388.5,"s":95,"c":"2 min"},{"w":395,"s":112,"c":"2 min"},{"w":402.5,"s":142,"c":"2 min"},{"w":406,"s":157,"c":"2 min"},{"w":410.8,"s":169,"c":"2 min"},{"w":416,"s":185,"c":"2 min"},{"w":421,"s":197,"c":"2 min"},{"w":427.6,"s":209,"c":"2 min"},{"w":433,"s":213,"c":"2 min"},{"w":438.7,"s":214,"c":"2 min"},{"w":445.4,"s":214,"c":"2 min"},{"w":449,"s":211,"c":"2 min"},{"w":452.7,"s":209,"c":"2 min"},{"w":458,"s":212,"c":"2 min"},{"w":463.8,"s":215,"c":"2 min"},{"w":468,"s":222,"c":"2 min"},{"w":472.2,"s":229,"c":"2 min"},{"w":475,"s":236,"c":"2 min"},{"w":477.8,"s":242,"c":"2 min"},{"w":481,"s":247,"c":"2 min"},{"w":484.7,"s":250,"c":"2 min"},{"w":488,"s":247,"c":"2 min"},{"w":491.7,"s":242,"c":"2 min"},{"w":495,"s":230,"c":"2 min"},{"w":498.7,"s":215,"c":"2 min"},{"w":503,"s":200,"c":"2 min"},{"w":507,"s":185,"c":"2 min"},{"w":512,"s":170,"c":"2 min"},{"w":516.8,"s":155,"c":"2 min"},{"w":522,"s":140,"c":"2 min"},{"w":528,"s":125,"c":"2 min"},{"w":536.4,"s":102,"c":"2 min"},{"w":545,"s":85,"c":"2 min"},{"w":555.9,"s":65,"c":"2 min"},{"w":567,"s":54,"c":"2 min"},{"w":578.2,"s":45,"c":"2 min"},{"w":590,"s":42,"c":"2 min"},{"w":600.2,"s":40,"c":"2 min"},{"w":612,"s":34,"c":"2 min"},{"w":625.3,"s":29,"c":"2 min"},{"w":640,"s":27,"c":"2 min"},{"w":653.8,"s":25,"c":"2 min"},{"w":675,"s":24,"c":"2 min"},{"w":700,"s":24,"c":"2 min"}
       ]},
       "mark": {"type": "line", "strokeWidth": 1.5, "strokeDash": [6, 5]},
       "encoding": {
        "x": {"field": "w", "type": "quantitative", "scale": {"domain": [350, 700], "nice": false, "zero": false},
         "axis": {"orient": "top", "values": [413.28, 619.92], "labelExpr": "datum.value < 500 ? '3' : '2'", "tickSize": -6, "tickOpacity": 0,
          "labelPadding": 22, "labelFontSize": 14, "labelFontWeight": "bold", "labelColor": "#000", "labelFlush": false, "labelOverlap": false, "labelBound": false,
          "title": "Photon Energy [eV]", "titleFontSize": 15, "titleFontWeight": "bold", "titleColor": "#000", "titlePadding": 15,
          "domainColor": "#000", "domainWidth": 1.5, "grid": false}},
        "y": {"field": "s", "type": "quantitative", "scale": {"domain": [0, 331], "nice": false, "zero": false},
         "axis": {"orient": "right", "labels": false, "ticks": false, "title": null, "domainColor": "#000", "domainWidth": 1.5, "grid": false}},
        "color": {"field": "c", "type": "nominal", "sort": null,
         "scale": {"domain": ["0 min", "2 min"], "range": ["#505050", "#8ccbee"]},
         "legend": {"title": "Y₂(NDC)₃ 150nm", "orient": "none", "legendX": 249, "legendY": 108, "padding": 0,
          "labelFontSize": 10, "labelFontWeight": "bold", "labelColor": "#000", "titleFontSize": 10, "titleFontWeight": "bold", "titleColor": "#000",
          "symbolType": "stroke", "symbolSize": 730, "symbolStrokeWidth": 1.5, "clipHeight": 15, "rowPadding": 0, "labelOffset": 2, "titlePadding": 3}},
        "strokeDash": {"field": "c", "type": "nominal", "sort": null,
         "scale": {"domain": ["0 min", "2 min"], "range": [[6, 5], [6, 5]]}}
       }
      },
      {
       "data": {"values": [
{"w":350,"s":25,"c":"Al₂O₃ 90nm"},{"w":380,"s":25,"c":"Al₂O₃ 90nm"},{"w":420,"s":24.5,"c":"Al₂O₃ 90nm"},{"w":460,"s":24,"c":"Al₂O₃ 90nm"},{"w":500,"s":24,"c":"Al₂O₃ 90nm"},{"w":540,"s":24,"c":"Al₂O₃ 90nm"},{"w":580,"s":23.5,"c":"Al₂O₃ 90nm"},{"w":620,"s":23.5,"c":"Al₂O₃ 90nm"},{"w":660,"s":23.5,"c":"Al₂O₃ 90nm"},{"w":700,"s":23,"c":"Al₂O₃ 90nm"},
{"w":350,"s":26,"c":"Al₂(NDC)₃ 100nm"},{"w":371.8,"s":28,"c":"Al₂(NDC)₃ 100nm"},{"w":388.5,"s":30,"c":"Al₂(NDC)₃ 100nm"},{"w":405.2,"s":33,"c":"Al₂(NDC)₃ 100nm"},{"w":416.4,"s":37,"c":"Al₂(NDC)₃ 100nm"},{"w":430.3,"s":49,"c":"Al₂(NDC)₃ 100nm"},{"w":444.3,"s":59,"c":"Al₂(NDC)₃ 100nm"},{"w":452,"s":64,"c":"Al₂(NDC)₃ 100nm"},{"w":461,"s":69,"c":"Al₂(NDC)₃ 100nm"},{"w":467,"s":75,"c":"Al₂(NDC)₃ 100nm"},{"w":472.2,"s":82,"c":"Al₂(NDC)₃ 100nm"},{"w":476,"s":86,"c":"Al₂(NDC)₃ 100nm"},{"w":480.5,"s":90,"c":"Al₂(NDC)₃ 100nm"},{"w":484,"s":91,"c":"Al₂(NDC)₃ 100nm"},{"w":488.9,"s":90,"c":"Al₂(NDC)₃ 100nm"},{"w":494,"s":88,"c":"Al₂(NDC)₃ 100nm"},{"w":500,"s":85,"c":"Al₂(NDC)₃ 100nm"},{"w":508,"s":79,"c":"Al₂(NDC)₃ 100nm"},{"w":516.8,"s":72,"c":"Al₂(NDC)₃ 100nm"},{"w":526,"s":65,"c":"Al₂(NDC)₃ 100nm"},{"w":536.4,"s":59,"c":"Al₂(NDC)₃ 100nm"},{"w":546,"s":52,"c":"Al₂(NDC)₃ 100nm"},{"w":555.9,"s":47,"c":"Al₂(NDC)₃ 100nm"},{"w":570,"s":42,"c":"Al₂(NDC)₃ 100nm"},{"w":583.7,"s":39,"c":"Al₂(NDC)₃ 100nm"},{"w":597,"s":36,"c":"Al₂(NDC)₃ 100nm"},{"w":611.7,"s":34,"c":"Al₂(NDC)₃ 100nm"},{"w":625,"s":30,"c":"Al₂(NDC)₃ 100nm"},{"w":639.5,"s":27,"c":"Al₂(NDC)₃ 100nm"},{"w":667.2,"s":25,"c":"Al₂(NDC)₃ 100nm"},{"w":700,"s":24,"c":"Al₂(NDC)₃ 100nm"},
{"w":350,"s":25,"c":"Al₂(NDC)₃ in Al2O3 150nm"},{"w":371.8,"s":26,"c":"Al₂(NDC)₃ in Al2O3 150nm"},{"w":396.9,"s":27,"c":"Al₂(NDC)₃ in Al2O3 150nm"},{"w":410.8,"s":31,"c":"Al₂(NDC)₃ in Al2O3 150nm"},{"w":416,"s":35,"c":"Al₂(NDC)₃ in Al2O3 150nm"},{"w":422,"s":42,"c":"Al₂(NDC)₃ in Al2O3 150nm"},{"w":426,"s":50,"c":"Al₂(NDC)₃ in Al2O3 150nm"},{"w":430.3,"s":62,"c":"Al₂(NDC)₃ in Al2O3 150nm"},{"w":434.5,"s":72,"c":"Al₂(NDC)₃ in Al2O3 150nm"},{"w":438.7,"s":82,"c":"Al₂(NDC)₃ in Al2O3 150nm"},{"w":444.3,"s":102,"c":"Al₂(NDC)₃ in Al2O3 150nm"},{"w":448.5,"s":121,"c":"Al₂(NDC)₃ in Al2O3 150nm"},{"w":452.7,"s":142,"c":"Al₂(NDC)₃ in Al2O3 150nm"},{"w":458,"s":163,"c":"Al₂(NDC)₃ in Al2O3 150nm"},{"w":463.8,"s":185,"c":"Al₂(NDC)₃ in Al2O3 150nm"},{"w":468,"s":200,"c":"Al₂(NDC)₃ in Al2O3 150nm"},{"w":472.2,"s":215,"c":"Al₂(NDC)₃ in Al2O3 150nm"},{"w":475,"s":229,"c":"Al₂(NDC)₃ in Al2O3 150nm"},{"w":477.8,"s":242,"c":"Al₂(NDC)₃ in Al2O3 150nm"},{"w":480.5,"s":254,"c":"Al₂(NDC)₃ in Al2O3 150nm"},{"w":483.3,"s":265,"c":"Al₂(NDC)₃ in Al2O3 150nm"},{"w":486,"s":271,"c":"Al₂(NDC)₃ in Al2O3 150nm"},{"w":488.9,"s":275,"c":"Al₂(NDC)₃ in Al2O3 150nm"},{"w":491.7,"s":277,"c":"Al₂(NDC)₃ in Al2O3 150nm"},{"w":494.5,"s":277,"c":"Al₂(NDC)₃ in Al2O3 150nm"},{"w":498.7,"s":274,"c":"Al₂(NDC)₃ in Al2O3 150nm"},{"w":502.9,"s":269,"c":"Al₂(NDC)₃ in Al2O3 150nm"},{"w":508.5,"s":261,"c":"Al₂(NDC)₃ in Al2O3 150nm"},{"w":514,"s":252,"c":"Al₂(NDC)₃ in Al2O3 150nm"},{"w":519.6,"s":241,"c":"Al₂(NDC)₃ in Al2O3 150nm"},{"w":525.1,"s":229,"c":"Al₂(NDC)₃ in Al2O3 150nm"},{"w":530.7,"s":212,"c":"Al₂(NDC)₃ in Al2O3 150nm"},{"w":535,"s":203,"c":"Al₂(NDC)₃ in Al2O3 150nm"},{"w":539.1,"s":192,"c":"Al₂(NDC)₃ in Al2O3 150nm"},{"w":547,"s":174,"c":"Al₂(NDC)₃ in Al2O3 150nm"},{"w":555.9,"s":155,"c":"Al₂(NDC)₃ in Al2O3 150nm"},{"w":562,"s":141,"c":"Al₂(NDC)₃ in Al2O3 150nm"},{"w":568.4,"s":127,"c":"Al₂(NDC)₃ in Al2O3 150nm"},{"w":575,"s":114,"c":"Al₂(NDC)₃ in Al2O3 150nm"},{"w":581,"s":102,"c":"Al₂(NDC)₃ in Al2O3 150nm"},{"w":586,"s":96,"c":"Al₂(NDC)₃ in Al2O3 150nm"},{"w":591,"s":90,"c":"Al₂(NDC)₃ in Al2O3 150nm"},{"w":596,"s":85,"c":"Al₂(NDC)₃ in Al2O3 150nm"},{"w":600.2,"s":82,"c":"Al₂(NDC)₃ in Al2O3 150nm"},{"w":606,"s":76,"c":"Al₂(NDC)₃ in Al2O3 150nm"},{"w":611.7,"s":69,"c":"Al₂(NDC)₃ in Al2O3 150nm"},{"w":618,"s":60,"c":"Al₂(NDC)₃ in Al2O3 150nm"},{"w":625.3,"s":52,"c":"Al₂(NDC)₃ in Al2O3 150nm"},{"w":640,"s":43,"c":"Al₂(NDC)₃ in Al2O3 150nm"},{"w":653.8,"s":37,"c":"Al₂(NDC)₃ in Al2O3 150nm"},{"w":668,"s":33,"c":"Al₂(NDC)₃ in Al2O3 150nm"},{"w":681.4,"s":30,"c":"Al₂(NDC)₃ in Al2O3 150nm"},{"w":690,"s":28,"c":"Al₂(NDC)₃ in Al2O3 150nm"},{"w":700,"s":26,"c":"Al₂(NDC)₃ in Al2O3 150nm"},
{"w":350,"s":26,"c":"Al₂(NDC)₃ 14nm"},{"w":388.5,"s":29,"c":"Al₂(NDC)₃ 14nm"},{"w":410.8,"s":30,"c":"Al₂(NDC)₃ 14nm"},{"w":417,"s":33,"c":"Al₂(NDC)₃ 14nm"},{"w":424.7,"s":37,"c":"Al₂(NDC)₃ 14nm"},{"w":434,"s":41,"c":"Al₂(NDC)₃ 14nm"},{"w":444.3,"s":44,"c":"Al₂(NDC)₃ 14nm"},{"w":452,"s":47,"c":"Al₂(NDC)₃ 14nm"},{"w":461,"s":49,"c":"Al₂(NDC)₃ 14nm"},{"w":470,"s":52,"c":"Al₂(NDC)₃ 14nm"},{"w":477.8,"s":55,"c":"Al₂(NDC)₃ 14nm"},{"w":482,"s":57,"c":"Al₂(NDC)₃ 14nm"},{"w":486,"s":56,"c":"Al₂(NDC)₃ 14nm"},{"w":494.5,"s":52,"c":"Al₂(NDC)₃ 14nm"},{"w":504,"s":48,"c":"Al₂(NDC)₃ 14nm"},{"w":514,"s":44,"c":"Al₂(NDC)₃ 14nm"},{"w":525,"s":39,"c":"Al₂(NDC)₃ 14nm"},{"w":536.4,"s":35,"c":"Al₂(NDC)₃ 14nm"},{"w":545,"s":32,"c":"Al₂(NDC)₃ 14nm"},{"w":555.9,"s":30,"c":"Al₂(NDC)₃ 14nm"},{"w":570,"s":28,"c":"Al₂(NDC)₃ 14nm"},{"w":583.7,"s":27,"c":"Al₂(NDC)₃ 14nm"},{"w":620,"s":25,"c":"Al₂(NDC)₃ 14nm"},{"w":660,"s":24,"c":"Al₂(NDC)₃ 14nm"},{"w":700,"s":24,"c":"Al₂(NDC)₃ 14nm"}
       ]},
       "mark": {"type": "line", "strokeWidth": 1.8},
       "encoding": {
        "x": {"field": "w", "type": "quantitative", "scale": {"domain": [350, 700], "nice": false, "zero": false},
         "axis": {"orient": "bottom", "values": [400,500,600,700], "tickSize": -6, "tickOpacity": 0,
          "labelPadding": 13, "labelFontSize": 14, "labelFontWeight": "bold", "labelColor": "#000", "labelFlush": false, "labelOverlap": false, "labelBound": false,
          "title": "Wavelength [nm]", "titleFontSize": 16, "titleFontWeight": "bold", "titleColor": "#000", "titlePadding": 15,
          "domainColor": "#000", "domainWidth": 1.5, "grid": false}},
        "y": {"field": "s", "type": "quantitative", "scale": {"domain": [0, 331], "nice": false, "zero": false},
         "axis": {"orient": "left", "labels": false, "ticks": false, "title": "PL Signal", "titleFontSize": 16, "titleFontWeight": "bold", "titleColor": "#000", "titlePadding": 16,
          "domainColor": "#000", "domainWidth": 1.5, "grid": false}},
        "color": {"field": "c", "type": "nominal", "sort": null,
         "scale": {"domain": ["Al₂O₃ 90nm", "Al₂(NDC)₃ 100nm", "Al₂(NDC)₃ in Al2O3 150nm", "Al₂(NDC)₃ 14nm"], "range": ["#4a4a4a", "#e8413c", "#2f6fc0", "#3aaa5c"]},
         "legend": {"title": "Tₑₓc=265nm", "orient": "none", "legendX": 249, "legendY": 9, "padding": 0,
          "labelFontSize": 10, "labelFontWeight": "bold", "labelColor": "#000", "titleFontSize": 10, "titleFontWeight": "bold", "titleColor": "#000",
          "symbolType": "stroke", "symbolSize": 730, "symbolStrokeWidth": 2, "clipHeight": 15, "rowPadding": 1.7, "labelOffset": 2, "titlePadding": 4}}
       }
      },
      {
       "data": {"values": [{"w": 500, "s": 100}]},
       "mark": {"type": "point", "opacity": 0},
       "encoding": {
        "x": {"field": "w", "type": "quantitative", "scale": {"domain": [350, 700], "nice": false, "zero": false},
         "axis": {"orient": "bottom", "offset": -6, "values": [400,500,600,700], "labels": false, "tickSize": 6, "domain": false, "title": null, "tickColor": "#000", "tickWidth": 1.5, "grid": false}},
        "y": {"field": "s", "type": "quantitative", "scale": {"domain": [0, 331], "nice": false, "zero": false}, "axis": null}
       }
      },
      {
       "data": {"values": [{"w": 500, "s": 100}]},
       "mark": {"type": "point", "opacity": 0},
       "encoding": {
        "x": {"field": "w", "type": "quantitative", "scale": {"domain": [350, 700], "nice": false, "zero": false},
         "axis": {"orient": "top", "offset": -6, "values": [413.28, 619.92], "labels": false, "tickSize": 6, "domain": false, "title": null, "tickColor": "#000", "tickWidth": 1.5, "grid": false}},
        "y": {"field": "s", "type": "quantitative", "scale": {"domain": [0, 331], "nice": false, "zero": false}, "axis": null}
       }
      },
      {
       "data": {"values": [{"w": 500, "s": 100}]},
       "mark": {"type": "point", "opacity": 0},
       "encoding": {
        "x": {"field": "w", "type": "quantitative", "scale": {"domain": [350, 700], "nice": false, "zero": false},
         "axis": {"orient": "bottom", "offset": -4, "values": [450,550,650], "labels": false, "tickSize": 4, "domain": false, "title": null, "tickColor": "#000", "tickWidth": 1.5, "grid": false}},
        "y": {"field": "s", "type": "quantitative", "scale": {"domain": [0, 331], "nice": false, "zero": false}, "axis": null}
       }
      },
      {
       "data": {"values": [{"w": 500, "s": 100}]},
       "mark": {"type": "point", "opacity": 0},
       "encoding": {
        "x": {"field": "w", "type": "quantitative", "scale": {"domain": [350, 700], "nice": false, "zero": false},
         "axis": {"orient": "top", "offset": -3, "values": [354.24,364.66,375.71,387.45,399.95,427.53,442.80,459.20,476.86,495.94,516.60,539.06,563.56,590.40,652.55,688.80], "labels": false, "tickSize": 3, "domain": false, "title": null, "tickColor": "#000", "tickWidth": 1.2, "grid": false}},
        "y": {"field": "s", "type": "quantitative", "scale": {"domain": [0, 331], "nice": false, "zero": false}, "axis": null}
       }
      }
     ],
     "resolve": {"axis": {"x": "independent", "y": "independent"}, "scale": {"color": "independent", "strokeDash": "independent"}}
    }
   ],
   "spacing": 0,
   "bounds": "flush"
  }
 ]
}
